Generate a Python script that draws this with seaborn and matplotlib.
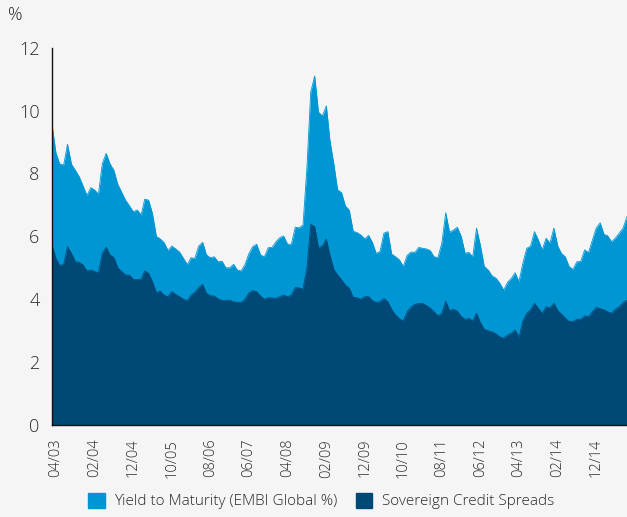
import numpy as np
import pandas as pd
import matplotlib
matplotlib.use("Agg")
import matplotlib.pyplot as plt
from matplotlib.patches import Patch
import seaborn as sns

# monthly values, 03/2003 .. 08/2015
yield_to_maturity = [
    9.54, 8.65, 8.3, 8.27, 8.93, 8.3, 8.1, 7.9, 7.6, 7.3,
    7.55, 7.47, 7.34, 8.32, 8.64, 8.3, 8.1, 7.65, 7.4, 7.15,
    6.97, 6.78, 6.84, 6.68, 7.18, 7.15, 6.73, 6.0, 5.92, 5.8,
    5.55, 5.69, 5.6, 5.5, 5.3, 5.1, 5.32, 5.3, 5.69, 5.81,
    5.41, 5.32, 5.35, 5.19, 5.21, 5.0, 5.0, 5.11, 4.93, 4.9,
    5.1, 5.45, 5.67, 5.75, 5.41, 5.35, 5.64, 5.65, 5.83, 5.96,
    6.01, 5.75, 5.75, 6.29, 6.27, 6.36, 8.2, 10.6, 11.1, 9.95,
    9.83, 10.15, 9.06, 8.3, 7.48, 7.39, 6.97, 6.83, 6.16, 6.12,
    6.04, 5.92, 6.03, 5.79, 5.46, 5.52, 6.1, 6.15, 5.44, 5.35,
    5.25, 5.04, 5.4, 5.5, 5.49, 5.65, 5.62, 5.6, 5.55, 5.35,
    5.32, 5.78, 6.75, 6.13, 6.2, 6.29, 6.0, 5.46, 5.49, 5.35,
    6.26, 5.7, 5.04, 4.93, 4.74, 4.67, 4.51, 4.29, 4.54, 4.67,
    4.84, 4.56, 5.14, 5.62, 5.69, 6.15, 5.88, 5.57, 5.94, 5.78,
    6.26, 5.69, 5.46, 5.35, 5.04, 4.95, 5.19, 5.2, 5.57, 5.48,
    5.88, 6.26, 6.43, 6.06, 6.02, 5.83, 5.94, 6.1, 6.26, 6.63,
]
credit_spreads = [
    5.73, 5.3, 5.07, 5.11, 5.67, 5.46, 5.19, 5.17, 5.09, 4.9,
    4.93, 4.88, 4.84, 5.46, 5.65, 5.41, 5.32, 5.0, 4.88, 4.77,
    4.77, 4.63, 4.63, 4.63, 4.9, 4.82, 4.56, 4.21, 4.26, 4.13,
    4.08, 4.24, 4.15, 4.08, 4.0, 3.95, 4.13, 4.22, 4.37, 4.47,
    4.19, 4.11, 4.1, 4.01, 3.96, 3.96, 3.97, 3.92, 3.9, 3.89,
    4.0, 4.2, 4.27, 4.24, 4.1, 4.0, 4.05, 4.04, 4.03, 4.08,
    4.13, 4.08, 4.13, 4.37, 4.36, 4.32, 5.0, 6.38, 6.31, 5.64,
    5.69, 5.91, 5.41, 4.95, 4.77, 4.62, 4.45, 4.35, 4.06, 4.05,
    4.0, 4.08, 4.08, 3.95, 3.9, 3.92, 4.02, 3.92, 3.68, 3.5,
    3.38, 3.31, 3.6, 3.75, 3.84, 3.86, 3.87, 3.8, 3.72, 3.6,
    3.47, 3.55, 3.94, 3.64, 3.68, 3.62, 3.45, 3.36, 3.39, 3.31,
    3.55, 3.25, 3.04, 3.0, 2.96, 2.9, 2.8, 2.76, 2.86, 2.92,
    3.02, 2.79, 3.3, 3.55, 3.66, 3.87, 3.71, 3.55, 3.76, 3.72,
    3.87, 3.64, 3.53, 3.4, 3.29, 3.29, 3.36, 3.36, 3.47, 3.44,
    3.6, 3.74, 3.7, 3.66, 3.6, 3.55, 3.68, 3.76, 3.89, 3.97,
]
tick_labels = ["04/03", "02/04", "12/04", "10/05", "08/06", "06/07", "04/08",
               "02/09", "12/09", "10/10", "08/11", "06/12", "04/13", "02/14", "12/14"]
y_ticks = [0, 2, 4, 6, 8, 10, 12]

light_blue = "#0096d4"
navy = "#004876"
bg = "#f5f5f5"
text_col = "#2a2a2a"

dates = pd.date_range("2003-03-01", periods=len(yield_to_maturity), freq="MS")
df = pd.DataFrame({"date": dates, "ytm": yield_to_maturity, "spread": credit_spreads})

sns.set_style("white")
plt.rcParams["font.family"] = ["Open Sans", "DejaVu Sans"]
plt.rcParams["font.weight"] = "light"

fig = plt.figure(figsize=(6.27, 5.17), dpi=100, facecolor=bg)
ax = fig.add_axes([0.083, 0.178, 0.917, 0.7297])
ax.set_facecolor(bg)

ax.fill_between(df["date"], 0, df["ytm"], color=light_blue, lw=0)
ax.fill_between(df["date"], 0, df["spread"], color=navy, lw=0)
sns.lineplot(data=df, x="date", y="ytm", ax=ax, color=light_blue, lw=0.6)
sns.lineplot(data=df, x="date", y="spread", ax=ax, color=navy, lw=0.6)

ax.set_xlim(dates[0], dates[-1])
ax.set_ylim(0, 12)
ax.set_yticks(y_ticks)
ax.set_yticklabels([str(t) for t in y_ticks], fontsize=13, color=text_col)
tick_dates = pd.to_datetime(tick_labels, format="%m/%y")
ax.set_xticks(tick_dates)
ax.set_xticklabels(tick_labels, rotation=90, fontsize=10.5, color=text_col)
ax.tick_params(axis="both", length=0)
ax.tick_params(axis="y", pad=9)
ax.tick_params(axis="x", pad=10)
ax.set_xlabel("")
ax.set_ylabel("")

for s in ["top", "right"]:
    ax.spines[s].set_visible(False)
ax.spines["left"].set_color("#111111")
ax.spines["bottom"].set_color("#111111")
ax.spines["left"].set_linewidth(1.0)
ax.spines["bottom"].set_linewidth(1.0)

fig.text(0.013, 0.962, "%", fontsize=13, color=text_col)

handles = [Patch(color=light_blue, label="Yield to Maturity (EMBI Global %)"),
           Patch(color=navy, label="Sovereign Credit Spreads")]
fig.legend(handles=handles, loc="lower center", bbox_to_anchor=(0.512, -0.012),
           ncol=2, frameon=False, fontsize=11, handlelength=1.1, handleheight=1.1,
           columnspacing=1.2, handletextpad=0.6, labelcolor=text_col)

fig.savefig("out.png", dpi=100, facecolor=bg)
